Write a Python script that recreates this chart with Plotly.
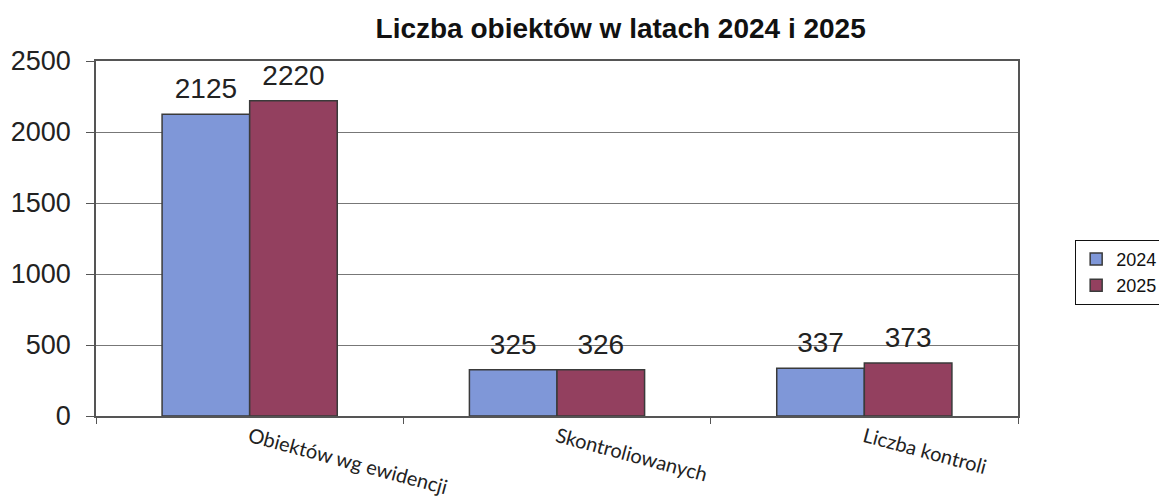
import plotly.graph_objects as go

categories = ["Obiektów wg ewidencji", "Skontroliowanych", "Liczba kontroli"]
values_2024 = [2125, 325, 337]
values_2025 = [2220, 326, 373]

# big number on the first line, a small empty line below it to lift it off the bar
label_template = "<span style='font-size:28px'>%{y}</span><br><span style='font-size:2px'> </span>"

fig = go.Figure()

fig.add_trace(go.Bar(
    x=categories,
    y=values_2024,
    name="2024",
    marker_color="#7f97d8",
    marker_line_color="#3a3a3a",
    marker_line_width=1.5,
    texttemplate=label_template,
    textposition="outside",
    textfont=dict(family="Arial", size=10, color="#222"),
    cliponaxis=False,
))

fig.add_trace(go.Bar(
    x=categories,
    y=values_2025,
    name="2025",
    marker_color="#93405f",
    marker_line_color="#3a3a3a",
    marker_line_width=1.5,
    texttemplate=label_template,
    textposition="outside",
    textfont=dict(family="Arial", size=10, color="#222"),
    cliponaxis=False,
))

fig.update_layout(
    width=1167,
    height=501,
    margin=dict(l=88, r=155, t=53, b=93),
    paper_bgcolor="white",
    plot_bgcolor="white",
    barmode="group",
    bargap=0.43,
    bargroupgap=0,
    title=dict(
        text="<b>Liczba obiektów w latach 2024 i 2025</b>",
        font=dict(family="Arial", size=28, color="#111"),
        x=0.525, xanchor="center", y=0.96, yanchor="middle",
    ),
    legend=dict(
        x=1.062, y=0.405, xanchor="left", yanchor="middle",
        bordercolor="#111", borderwidth=1,
        font=dict(family="Arial", size=18, color="#111"),
        itemwidth=30, tracegroupgap=0,
    ),
    font=dict(family="Arial", color="#222"),
)

fig.update_yaxes(
    range=[0, 2500],
    dtick=500,
    automargin=False,
    showgrid=True, gridcolor="#777", gridwidth=1,
    showline=True, linecolor="#555", linewidth=1.5, mirror=True,
    ticks="outside", ticklen=8, tickcolor="#555",
    ticklabelstandoff=10,
    tickfont=dict(family="Arial", size=27, color="#222"),
    zeroline=False,
)

fig.update_xaxes(
    automargin=False,
    showline=True, linecolor="#555", linewidth=1.5, mirror=True,
    ticks="outside", ticklen=6, tickcolor="#555", tickson="boundaries",
    tickangle=15,
    ticklabelstandoff=0,
    tickfont=dict(family="Lato", size=20, color="#222"),
)

fig.write_html("out.html")
